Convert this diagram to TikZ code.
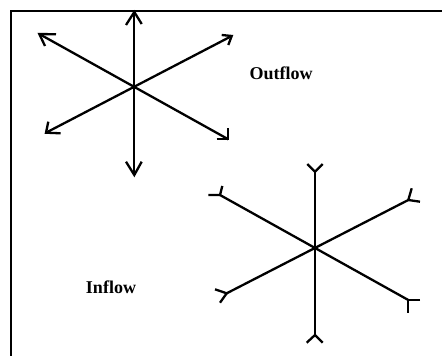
\documentclass[tikz,border=0pt]{standalone}
\usepackage{fontspec}
\setmainfont{Liberation Serif}
\begin{document}
\begin{tikzpicture}[x=1pt,y=-1pt,
  ray/.style={line width=2.3pt, line join=miter},
  frameline/.style={line width=2.6pt},
  caption/.style={font=\bfseries\fontsize{18}{21}\selectfont, inner sep=0pt}]
\useasboundingbox (0,0) rectangle (442,356);
\fill[white] (0,0) rectangle (442,356);
% frame (top and left edges)
\draw[frameline] (11,356) -- (11,11) -- (442,11);

% ---- outflow star ----
\coordinate (oc)  at (134,87);
\coordinate (ot)  at (134.3,12);
\coordinate (ob)  at (134.3,175);
\coordinate (oul) at (39.3,34);
\coordinate (olr) at (228.3,139.3);
\coordinate (our) at (231.7,36);
\coordinate (oll) at (46,132.7);
\draw[ray] (ot) -- (ob);
\draw[ray] (oul) -- (olr);
\draw[ray] (our) -- (oll);
% arrow heads pointing outward
\draw[ray] (ot)  ++(-8.3,13)  -- (ot)  -- ++(7.4,12);
\draw[ray] (ob)  ++(-8.3,-13.3) -- (ob) -- ++(7.4,-13.3);
\draw[ray] (oul) ++(16.7,0.3) -- (oul) -- ++(5.7,12);
\draw[ray] (our) ++(-10,-1)  -- (our) -- ++(-3.4,9);
\draw[ray] (oll) ++(2.3,-11) -- (oll) -- ++(14.7,0.6);
\draw[ray] (olr) ++(-11.6,0) -- (olr) -- ++(0,-11);

\node[caption] (out) at (281,73) {Outflow};

% ---- inflow star ----
\coordinate (ic)  at (315,248);
\coordinate (it)  at (315,171.7);
\coordinate (ib)  at (315,335);
\coordinate (iul) at (220,195);
\coordinate (ilr) at (408.3,300);
\coordinate (iur) at (408.3,200);
\coordinate (ill) at (226.7,293.3);
\draw[ray] (it) -- (ib);
\draw[ray] (iul) -- (ilr);
\draw[ray] (iur) -- (ill);
% tails with barbs spreading outward
\draw[ray] (it)  ++(-7.7,-7.7) -- (it)  -- ++(7.7,-7.7);
\draw[ray] (ib)  ++(-8.3,7.7)  -- (ib)  -- ++(7.7,7.7);
\draw[ray] (iul) ++(-11.7,0)   -- (iul) -- ++(2.3,-9);
\draw[ray] (iur) ++(3.4,-11.7) -- (iur) -- ++(11.7,1.7);
\draw[ray] (ill) ++(-11.7,-4)  -- (ill) -- ++(-6.7,9.4);
\draw[ray] (ilr) ++(11.7,0)    -- (ilr) -- ++(0,13.3);

\node[caption] (in) at (111,287) {Inflow};
\end{tikzpicture}
\end{document}
